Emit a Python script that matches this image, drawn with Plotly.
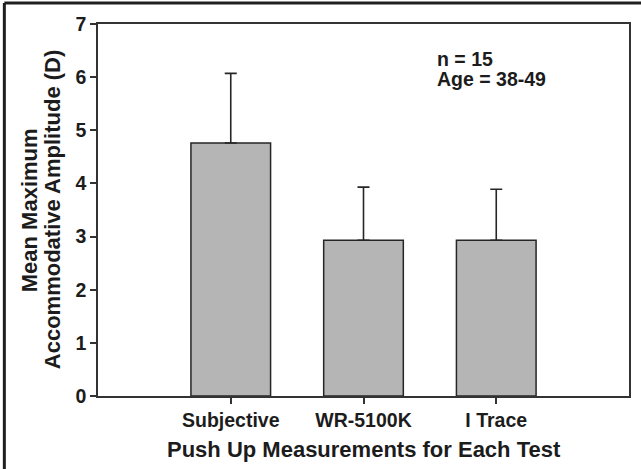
import plotly.graph_objects as go

categories = ["Subjective", "WR-5100K", "I Trace"]
means = [4.76, 2.93, 2.93]
sd_plus = [1.31, 1.00, 0.96]
y_ticks = [0, 1, 2, 3, 4, 5, 6, 7]
note_lines = ["n = 15", "Age = 38-49"]
x_title = "Push Up Measurements for Each Test"
y_title_lines = ["Mean Maximum", "Accommodative Amplitude (D)"]

W, H = 641, 469
L, R, T, B = 98, 10, 24, 73
pw, ph = W - L - R, H - T - B

def px_x(x):
    return (x - L) / pw

def px_y(y):
    return 1 - (y - T) / ph

FONT = "Liberation Sans, Arial, Helvetica, sans-serif"
INK = "#1c1c1c"
TICK_SIZE = 19.5
TITLE_SIZE = 22

fig = go.Figure()
fig.add_trace(go.Bar(
    x=categories, y=means, width=0.6,
    marker=dict(color="#b5b5b5", line=dict(color="#262626", width=1.5)),
    error_y=dict(type="data", symmetric=False, array=sd_plus,
                 arrayminus=[0] * len(sd_plus), color="#262626",
                 thickness=1.6, width=6),
    showlegend=False,
))

fig.update_layout(
    width=W, height=H,
    margin=dict(l=L, r=R, t=T, b=B),
    paper_bgcolor="white", plot_bgcolor="white",
    font=dict(family=FONT, color=INK, size=TICK_SIZE, weight="bold"),
    xaxis=dict(type="category", range=[-1, 3], showline=True, mirror=True,
               linecolor="#333333", linewidth=1.5, ticks="outside", ticklen=6,
               tickcolor="#333333", tickwidth=1.5, showgrid=False,
               tickfont=dict(size=TICK_SIZE, weight="bold", color=INK)),
    yaxis=dict(range=[0, 7], tickvals=y_ticks, showline=True, mirror=True,
               linecolor="#333333", linewidth=1.5, ticks="outside", ticklen=6,
               tickcolor="#333333", tickwidth=1.5, showgrid=False, zeroline=False,
               tickfont=dict(size=TICK_SIZE, weight="bold", color=INK)),
)

ann = []
ann.append(dict(text=x_title, x=px_x(365), y=px_y(449), xref="paper", yref="paper",
                xanchor="center", yanchor="middle", showarrow=False,
                font=dict(size=TITLE_SIZE, weight="bold", color=INK)))
for txt, cx in zip(y_title_lines, [29, 52]):
    ann.append(dict(text=txt, x=px_x(cx), y=0.5, xref="paper", yref="paper",
                    xanchor="center", yanchor="middle", textangle=-90, showarrow=False,
                    font=dict(size=TITLE_SIZE, weight="bold", color=INK)))
for txt, cy in zip(note_lines, [59, 79]):
    ann.append(dict(text=txt, x=px_x(436), y=px_y(cy), xref="paper", yref="paper",
                    xanchor="left", yanchor="middle", showarrow=False,
                    font=dict(size=TICK_SIZE, weight="bold", color=INK)))
fig.update_layout(annotations=ann)

# outer frame lines (top and left)
fig.add_shape(type="line", xref="paper", yref="paper",
              x0=px_x(4), x1=px_x(W + 5), y0=px_y(3), y1=px_y(3),
              line=dict(color="#202020", width=3))
fig.add_shape(type="line", xref="paper", yref="paper",
              x0=px_x(4), x1=px_x(4), y0=px_y(3), y1=px_y(H + 5),
              line=dict(color="#202020", width=3))

fig.write_html("out.html")
